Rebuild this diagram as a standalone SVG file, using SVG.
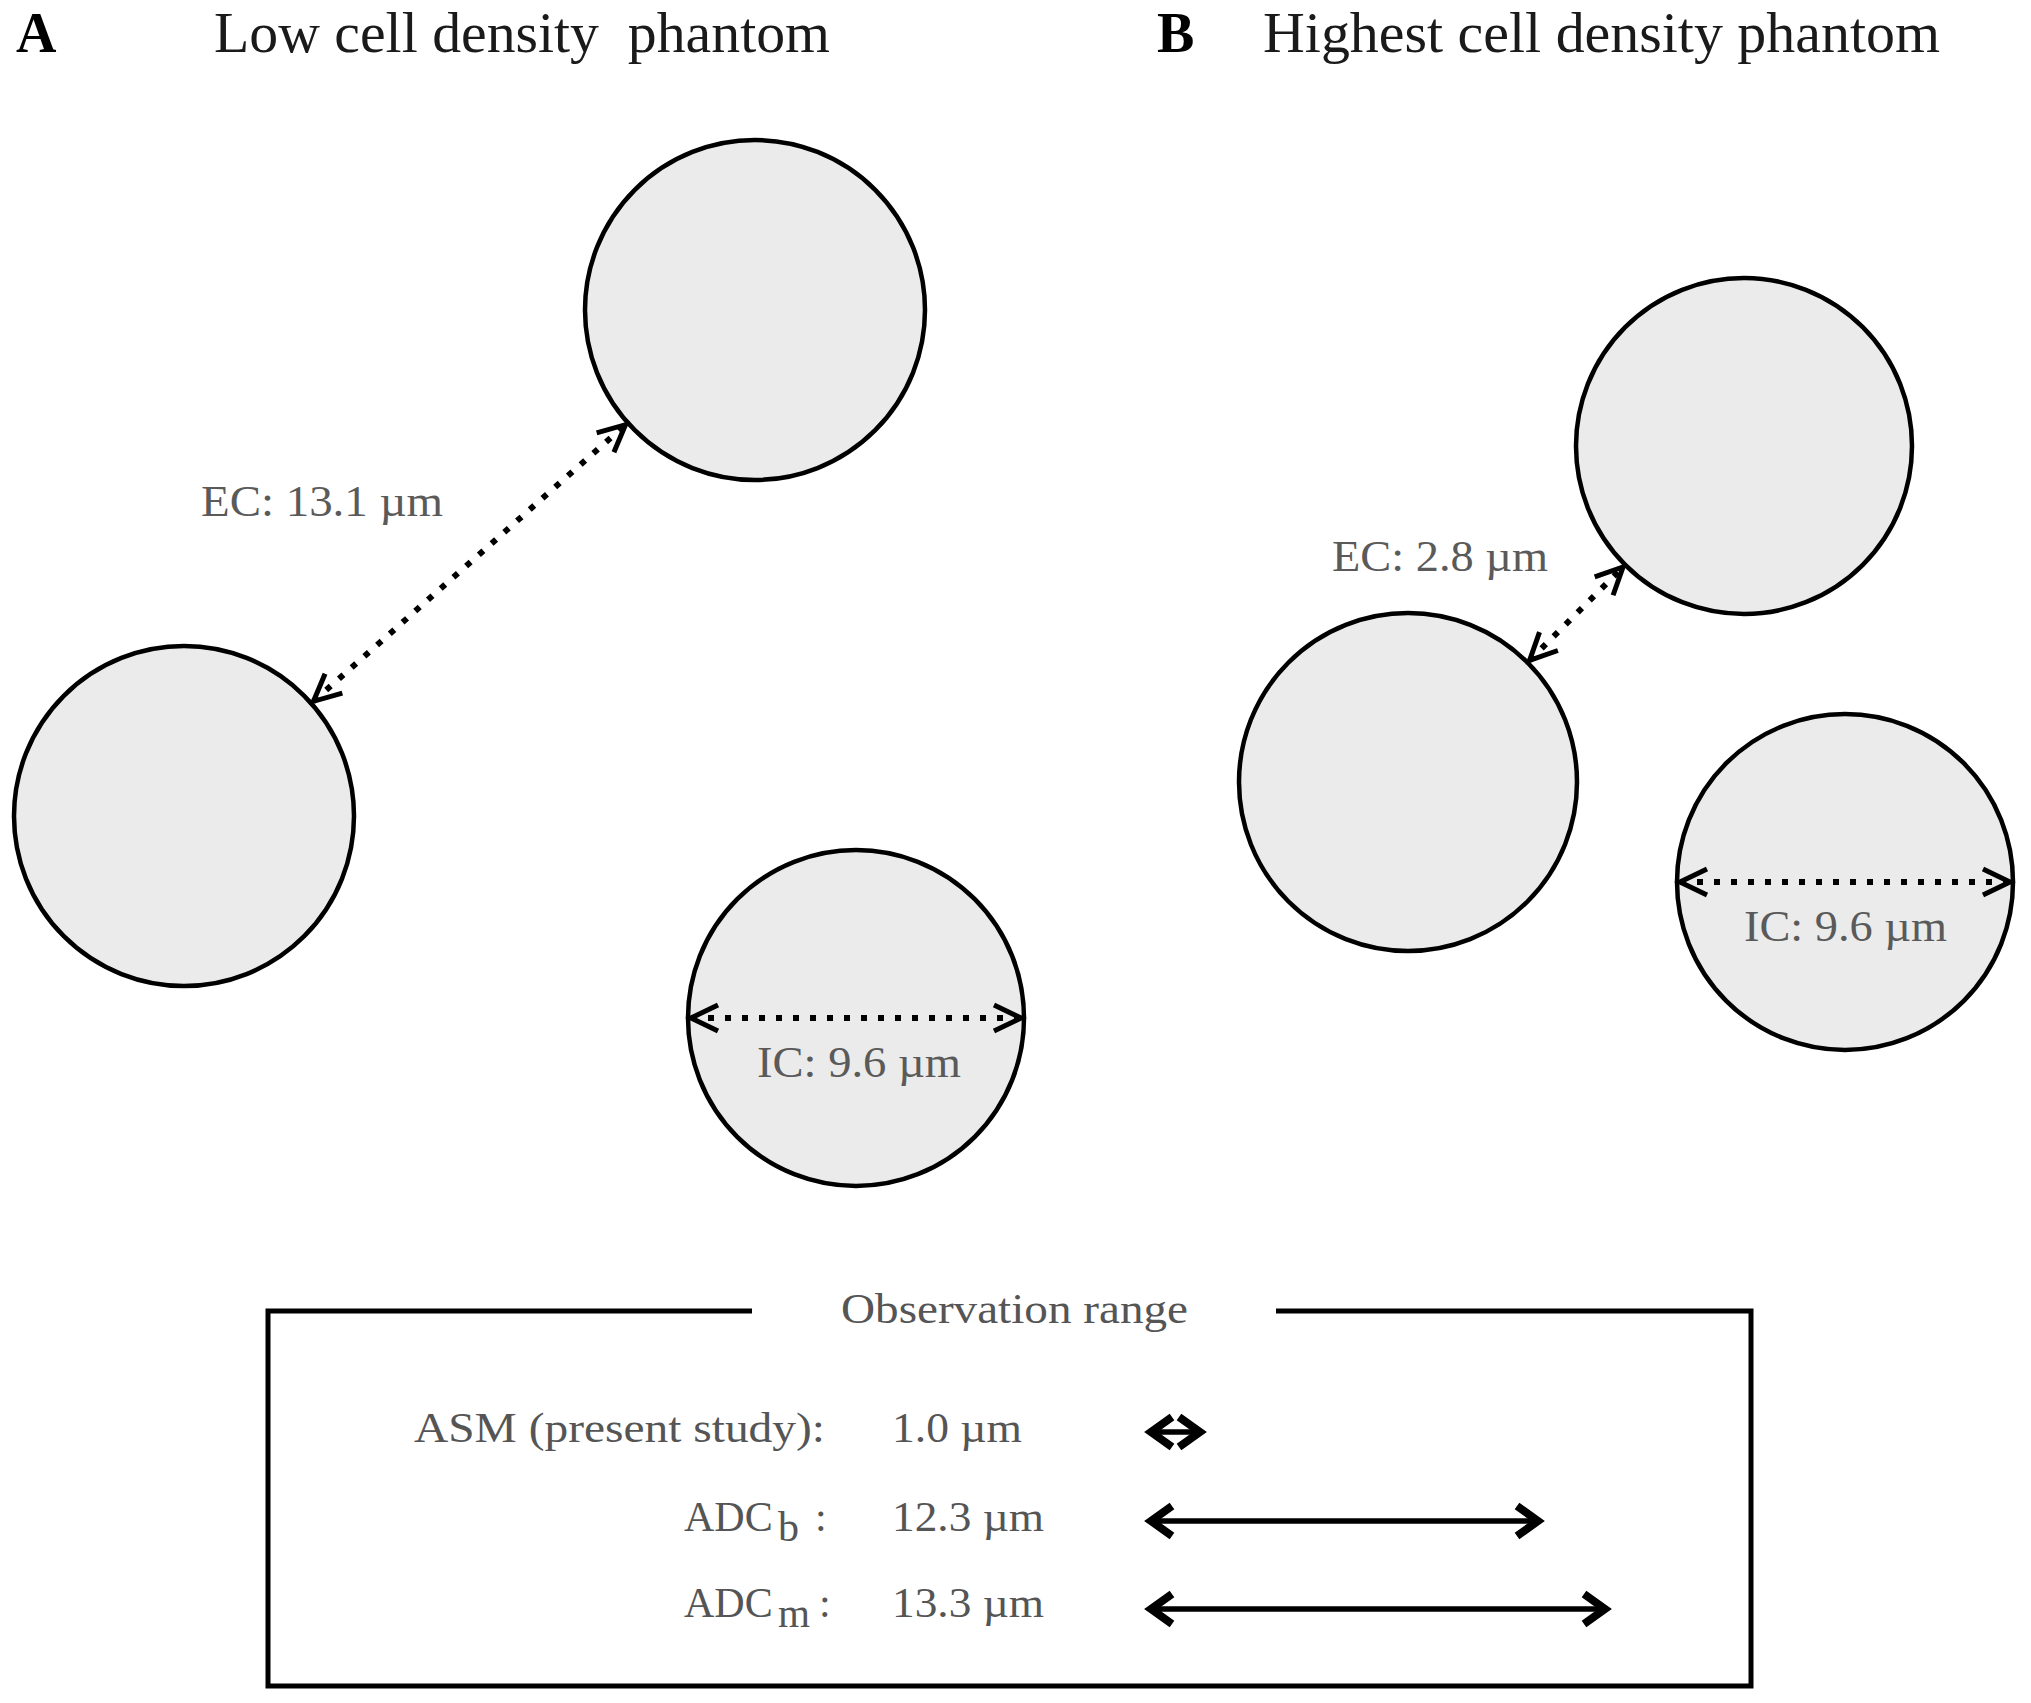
<svg xmlns="http://www.w3.org/2000/svg" width="2031" height="1703" viewBox="0 0 2031 1703">
<style>
.cell{fill:#ebebeb;stroke:#000;stroke-width:4.5}
.title{font-family:"Liberation Serif","Times New Roman",serif;font-size:56px;fill:#1a1a1a}
.panel{font-family:"Liberation Serif","Times New Roman",serif;font-size:56px;font-weight:bold;fill:#000}
.lbl{font-family:"Liberation Serif","Times New Roman",serif;font-size:44px;fill:#5a5a5a}
.leg{font-family:"Liberation Serif","Times New Roman",serif;font-size:42px;fill:#555}
.dot{fill:none;stroke:#000;stroke-width:6;stroke-dasharray:6 11}
.solid{fill:none;stroke:#000;stroke-width:5.5}
</style>
<defs>
<marker id="open" markerUnits="userSpaceOnUse" orient="auto-start-reverse" refX="0" refY="0" markerWidth="40" markerHeight="40" overflow="visible">
<path d="M-27,-13 L0,0 L-27,13" fill="none" stroke="#000" stroke-width="5" stroke-linejoin="miter"/>
</marker>
<marker id="bold" markerUnits="userSpaceOnUse" orient="auto-start-reverse" refX="0" refY="0" markerWidth="40" markerHeight="40" overflow="visible">
<path d="M-21,-15 L0,0 L-21,15" fill="none" stroke="#000" stroke-width="8" stroke-linejoin="miter"/>
</marker>
</defs>

<g id="titles">
<text class="panel" x="16" y="52">A</text>
<text class="title" x="214" y="52" textLength="616" lengthAdjust="spacingAndGlyphs" xml:space="preserve">Low cell density  phantom</text>
<text class="panel" x="1157" y="52">B</text>
<text class="title" x="1263" y="52" textLength="677" lengthAdjust="spacingAndGlyphs">Highest cell density phantom</text>
</g>

<g id="cellA1"><circle class="cell" cx="755" cy="310" r="170"/></g>
<g id="cellA2"><circle class="cell" cx="184" cy="816" r="170"/></g>
<g id="cellA3"><circle class="cell" cx="856" cy="1018" r="168"/></g>
<g id="cellB1"><circle class="cell" cx="1744" cy="446" r="168"/></g>
<g id="cellB2"><circle class="cell" cx="1408" cy="782" r="169"/></g>
<g id="cellB3"><circle class="cell" cx="1845" cy="882" r="168"/></g>

<g id="connectors">
<path class="dot" d="M313.5,701.3 L625.5,424.7" marker-start="url(#open)" marker-end="url(#open)"/>
<path class="dot" d="M1529.6,660.4 L1623,567" marker-start="url(#open)" marker-end="url(#open)"/>
<path class="dot" d="M691,1018 L1021,1018" marker-start="url(#open)" marker-end="url(#open)"/>
<path class="dot" d="M1680,882 L2010,882" marker-start="url(#open)" marker-end="url(#open)"/>
</g>

<g id="labels">
<text class="lbl" x="201" y="516" textLength="242" lengthAdjust="spacingAndGlyphs">EC: 13.1 µm</text>
<text class="lbl" x="1332" y="571" textLength="216" lengthAdjust="spacingAndGlyphs">EC: 2.8 µm</text>
<text class="lbl" x="757" y="1077" textLength="204" lengthAdjust="spacingAndGlyphs">IC: 9.6 µm</text>
<text class="lbl" x="1744" y="941" textLength="203" lengthAdjust="spacingAndGlyphs">IC: 9.6 µm</text>
</g>

<g id="legend">
<path d="M752,1311 H268 V1686 H1751 V1311 H1276" fill="none" stroke="#000" stroke-width="5"/>
<text class="leg" x="841" y="1323" textLength="347" lengthAdjust="spacingAndGlyphs">Observation range</text>
<text class="leg" x="414" y="1442" textLength="411" lengthAdjust="spacingAndGlyphs">ASM (present study):</text>
<text class="leg" x="892" y="1442" textLength="130" lengthAdjust="spacingAndGlyphs">1.0 µm</text>
<text class="leg" x="684" y="1531">ADC</text>
<text class="leg" x="778" y="1541" font-size="28">b</text>
<text class="leg" x="815" y="1531">:</text>
<text class="leg" x="892" y="1531" textLength="152" lengthAdjust="spacingAndGlyphs">12.3 µm</text>
<text class="leg" x="684" y="1617">ADC</text>
<text class="leg" x="778" y="1627" font-size="30" textLength="32" lengthAdjust="spacingAndGlyphs">m</text>
<text class="leg" x="819" y="1617">:</text>
<text class="leg" x="892" y="1617" textLength="152" lengthAdjust="spacingAndGlyphs">13.3 µm</text>
</g>

<g id="range-arrows">
<path class="solid" d="M1151,1432 L1200,1432" marker-start="url(#bold)" marker-end="url(#bold)"/>
<path class="solid" d="M1151,1521 L1538,1521" marker-start="url(#bold)" marker-end="url(#bold)"/>
<path class="solid" d="M1151,1609 L1605,1609" marker-start="url(#bold)" marker-end="url(#bold)"/>
</g>
</svg>
